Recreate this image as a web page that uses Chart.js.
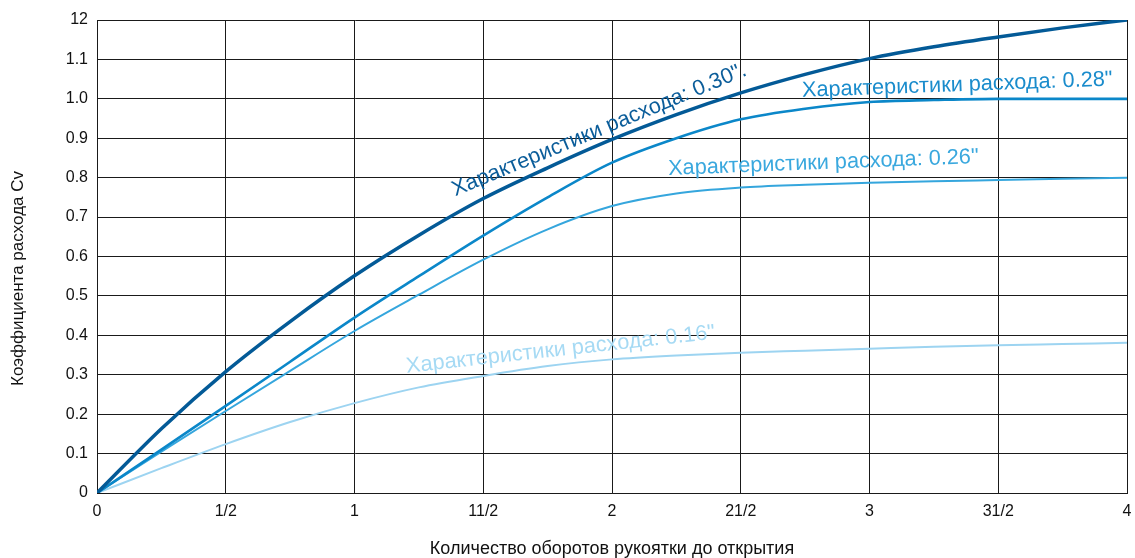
<!DOCTYPE html>
<html>
<head>
<meta charset="utf-8">
<script src="https://cdn.jsdelivr.net/npm/chart.js@4"></script>
<style>
  html, body { margin: 0; padding: 0; background: #fff; overflow: hidden; }
  #wrap { width: 1135px; height: 558px; position: relative; }
</style>
</head>
<body>
<div id="wrap"><canvas id="flow"></canvas></div>
<script>
// turns of the handle (x) and Cv values
let turns = [0, 0.25, 0.5, 0.75, 1, 1.25, 1.5, 1.75, 2, 2.25, 2.5, 2.75, 3, 3.25, 3.5, 3.75, 4];

let cv030 = [0, 0.163, 0.308, 0.435, 0.551, 0.654, 0.747, 0.825, 0.897, 0.960, 1.015, 1.062, 1.102, 1.132, 1.157, 1.180, 1.200];
let cv028 = [0, 0.110, 0.221, 0.333, 0.445, 0.550, 0.653, 0.750, 0.838, 0.900, 0.948, 0.975, 0.992, 0.997, 1.000, 1.000, 1.000];
let cv026 = [0, 0.105, 0.208, 0.310, 0.411, 0.503, 0.592, 0.669, 0.728, 0.760, 0.775, 0.782, 0.787, 0.791, 0.794, 0.797, 0.800];
let cv016 = [0, 0.063, 0.124, 0.180, 0.228, 0.268, 0.297, 0.322, 0.339, 0.349, 0.356, 0.361, 0.366, 0.371, 0.375, 0.378, 0.381];

let seriesNames = ['Характеристики расхода: 0.30".', 'Характеристики расхода: 0.28"', 'Характеристики расхода: 0.26"', 'Характеристики расхода: 0.16"'];

let xTickLabels = ['0', '1/2', '1', '11/2', '2', '21/2', '3', '31/2', '4'];
let yTickLabels = ['0', '0.1', '0.2', '0.3', '0.4', '0.5', '0.6', '0.7', '0.8', '0.9', '1.0', '1.1', '12'];

let xTitle = 'Количество оборотов рукоятки до открытия';
let yTitle = 'Коэффициента расхода Cv';

let colors = ['#035a97', '#0b87c9', '#35a6dd', '#9dd4f1'];
let labelColors = ['#0b5d9a', '#1a8ccc', '#3aa8de', '#a6daf4'];
let widths = [3.5, 2.6, 2, 2];

let fontFamily = '"Liberation Sans", Arial, sans-serif';

function points(values) {
  return turns.map((t, i) => ({ x: t, y: values[i] }));
}

// curve captions written along the lines (data coords of baseline start, angle in degrees)
let captions = [
  { x: 1.391, y: 0.753, angle: -22.5 },
  { x: 2.739, y: 1.005, angle: -2.1 },
  { x: 2.219, y: 0.807, angle: -2.2 },
  { x: 1.203, y: 0.305, angle: -6.3 }
];

let captionPlugin = {
  id: 'captions',
  afterDatasetsDraw(chart) {
    let ctx = chart.ctx;
    let xs = chart.scales.x, ys = chart.scales.y;
    ctx.save();
    ctx.font = '21.7px ' + fontFamily;
    ctx.textAlign = 'left';
    ctx.textBaseline = 'alphabetic';
    captions.forEach((c, i) => {
      ctx.save();
      ctx.translate(xs.getPixelForValue(c.x), ys.getPixelForValue(c.y));
      ctx.rotate(c.angle * Math.PI / 180);
      ctx.fillStyle = labelColors[i];
      ctx.fillText(seriesNames[i], 0, 0);
      ctx.restore();
    });

    // y axis title sits a bit below the middle of the axis in the original
    ctx.save();
    ctx.font = '17px ' + fontFamily;
    ctx.fillStyle = '#111';
    ctx.textAlign = 'center';
    ctx.textBaseline = 'middle';
    ctx.translate(18, (chart.chartArea.top + chart.chartArea.bottom) / 2 + 22);
    ctx.rotate(-Math.PI / 2);
    ctx.fillText(yTitle, 0, 0);
    ctx.restore();
    ctx.restore();
  }
};

let flow = document.getElementById('flow');

new Chart(flow, {
  type: 'line',
  data: {
    datasets: [cv030, cv028, cv026, cv016].map((v, i) => ({
      label: seriesNames[i],
      data: points(v),
      borderColor: colors[i],
      borderWidth: widths[i],
      pointRadius: 0,
      fill: false,
      cubicInterpolationMode: 'monotone'
    }))
  },
  options: {
    responsive: true,
    maintainAspectRatio: false,
    animation: false,
    layout: { padding: { left: 0, top: 20, right: 8, bottom: 0 } },
    plugins: {
      legend: { display: false },
      tooltip: { enabled: false }
    },
    scales: {
      x: {
        type: 'linear',
        min: 0,
        max: 4,
        afterFit: (s) => { s.height = 65; s.paddingRight = 4; },
        grid: { color: '#1a1a1a', lineWidth: 1, drawTicks: false },
        border: { color: '#1a1a1a', width: 1 },
        ticks: {
          stepSize: 0.5,
          padding: 9,
          color: '#111',
          font: { family: fontFamily, size: 16 },
          callback: (v) => xTickLabels[Math.round(v * 2)]
        },
        title: {
          display: true,
          text: xTitle,
          color: '#111',
          font: { family: fontFamily, size: 18, lineHeight: 1 },
          padding: { top: 0, bottom: 0 }
        }
      },
      y: {
        min: 0,
        max: 1.2,
        afterFit: (s) => { s.width = 97; },
        grid: { color: '#1a1a1a', lineWidth: 1, drawTicks: false },
        border: { color: '#1a1a1a', width: 1 },
        ticks: {
          stepSize: 0.1,
          padding: 9,
          color: '#111',
          font: { family: fontFamily, size: 16 },
          callback: (v) => yTickLabels[Math.round(v * 10)]
        },
        title: { display: false }
      }
    }
  },
  plugins: [captionPlugin]
});
</script>
</body>
</html>
